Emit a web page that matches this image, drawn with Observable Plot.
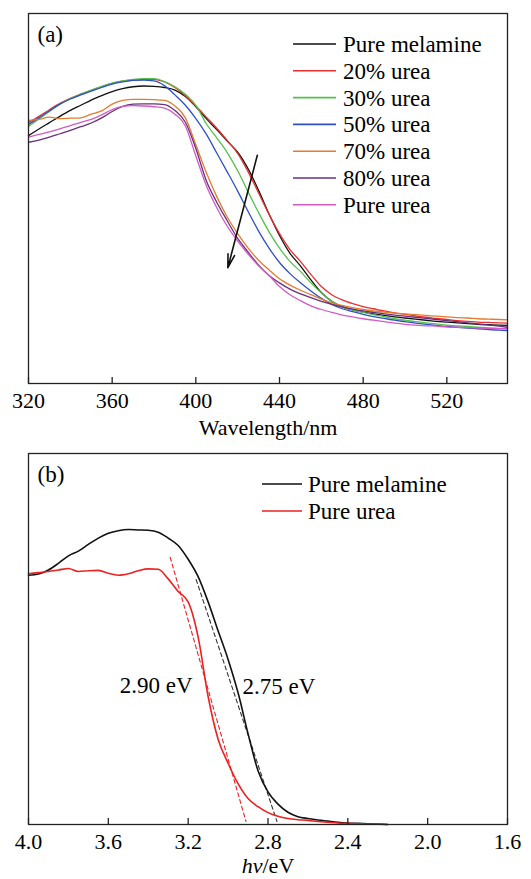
<!DOCTYPE html>
<html><head><meta charset="utf-8">
<script src="https://cdn.jsdelivr.net/npm/d3@7"></script>
<script src="https://cdn.jsdelivr.net/npm/@observablehq/plot@0.6"></script>
<style>
body{margin:0;background:#fff;}
#chart{width:531px;}
#chart svg{display:block;}
</style></head><body><div id="chart"></div>
<script>
// ---------- Panel (a): UV-vis absorbance vs wavelength ----------
const wavelengths = [320,325,330,335,340,345,350,355,360,365,370,375,380,385,390,395,400,405,410,415,420,425,430,435,440,445,450,455,460,465,470,475,480,485,490,495,500,505,510,515,520,525,530,535,540,545,549];
const seriesNames = ["Pure melamine","20% urea","30% urea","50% urea","70% urea","80% urea","Pure urea"];
const seriesColors = ["#111111","#ee2d2d","#52c249","#2f4fcb","#e57b2e","#6a2f7d","#d35ac6"];
const pureMelamineA = [0.670,0.688,0.705,0.722,0.738,0.752,0.766,0.778,0.789,0.797,0.802,0.804,0.803,0.800,0.793,0.776,0.748,0.716,0.686,0.655,0.625,0.580,0.522,0.458,0.400,0.352,0.318,0.280,0.246,0.222,0.207,0.199,0.193,0.188,0.184,0.180,0.177,0.174,0.171,0.168,0.166,0.164,0.162,0.160,0.159,0.158,0.157];
const urea20 = [0.705,0.722,0.740,0.757,0.771,0.782,0.792,0.802,0.811,0.817,0.820,0.822,0.822,0.815,0.800,0.778,0.750,0.720,0.690,0.657,0.622,0.572,0.515,0.457,0.405,0.362,0.330,0.295,0.262,0.240,0.226,0.216,0.208,0.202,0.196,0.191,0.187,0.183,0.179,0.176,0.173,0.170,0.168,0.166,0.165,0.164,0.163];
const urea30 = [0.695,0.715,0.735,0.755,0.770,0.782,0.793,0.803,0.812,0.818,0.822,0.824,0.824,0.816,0.802,0.782,0.752,0.702,0.664,0.624,0.575,0.518,0.462,0.410,0.366,0.330,0.303,0.272,0.245,0.222,0.208,0.199,0.192,0.186,0.181,0.175,0.171,0.167,0.164,0.161,0.158,0.156,0.154,0.152,0.150,0.149,0.148];
const urea50 = [0.700,0.718,0.737,0.755,0.769,0.780,0.790,0.800,0.809,0.815,0.819,0.820,0.818,0.805,0.780,0.752,0.716,0.674,0.623,0.572,0.520,0.465,0.412,0.366,0.327,0.297,0.272,0.250,0.230,0.214,0.202,0.194,0.187,0.181,0.176,0.171,0.167,0.163,0.160,0.157,0.154,0.152,0.150,0.148,0.146,0.144,0.143];
const urea70 = [0.711,0.714,0.720,0.716,0.717,0.718,0.728,0.737,0.755,0.765,0.768,0.768,0.767,0.765,0.750,0.718,0.645,0.570,0.505,0.450,0.405,0.366,0.333,0.307,0.283,0.266,0.252,0.240,0.228,0.218,0.211,0.205,0.200,0.196,0.193,0.190,0.188,0.186,0.184,0.182,0.180,0.178,0.177,0.175,0.174,0.173,0.172];
const urea80 = [0.652,0.658,0.666,0.675,0.684,0.694,0.704,0.718,0.735,0.749,0.755,0.756,0.756,0.754,0.738,0.706,0.635,0.548,0.490,0.440,0.392,0.355,0.320,0.292,0.272,0.255,0.242,0.232,0.222,0.214,0.207,0.201,0.196,0.192,0.188,0.185,0.182,0.179,0.176,0.173,0.170,0.167,0.164,0.161,0.158,0.155,0.152];
const pureUreaA = [0.666,0.673,0.680,0.688,0.697,0.706,0.714,0.726,0.740,0.749,0.751,0.750,0.748,0.744,0.728,0.696,0.615,0.535,0.475,0.425,0.385,0.350,0.318,0.292,0.262,0.240,0.224,0.210,0.200,0.192,0.185,0.180,0.175,0.171,0.167,0.163,0.160,0.158,0.156,0.155,0.153,0.152,0.151,0.150,0.149,0.148,0.148];
const xTicksA = [320,360,400,440,480,520];
const xLabelA = "Wavelength/nm";
const tagA = "(a)";
const arrowA = [{x1: 429.4, y1: 0.617, x2: 415.3, y2: 0.313}];

// ---------- Panel (b): absorbance vs photon energy ----------
const energies = [4.00,3.95,3.90,3.85,3.80,3.75,3.70,3.65,3.60,3.55,3.50,3.45,3.40,3.35,3.30,3.25,3.20,3.15,3.10,3.05,3.00,2.95,2.90,2.85,2.80,2.75,2.70,2.65,2.60,2.55,2.50,2.45,2.40,2.35,2.30,2.25,2.20];
const seriesNamesB = ["Pure melamine","Pure urea"];
const seriesColorsB = ["#111111","#ee2020"];
const pureMelamineB = [0.672,0.675,0.686,0.704,0.724,0.737,0.755,0.772,0.785,0.792,0.795,0.794,0.793,0.788,0.772,0.752,0.715,0.668,0.600,0.522,0.445,0.355,0.245,0.145,0.088,0.055,0.033,0.021,0.016,0.012,0.009,0.006,0.004,0.003,0.002,0.001,0.000];
const pureUreaB = [0.676,0.679,0.682,0.686,0.690,0.682,0.684,0.685,0.677,0.672,0.676,0.684,0.689,0.688,0.662,0.628,0.600,0.505,0.345,0.230,0.165,0.110,0.070,0.048,0.032,0.022,0.016,0.013,0.011,0.008,0.006,0.004,0.003,0.002,0.001,0.001,0.000];
const tangentMelamine = [[3.16,0.66],[2.755,0.008]];
const tangentUrea = [[3.29,0.72],[2.91,0.008]];
const gapLabels = [{text:"2.90 eV", x:3.36, y:0.375},{text:"2.75 eV", x:2.745, y:0.371}];
const xTicksB = [4.0,3.6,3.2,2.8,2.4,2.0,1.6];
const xLabelB = "hv/eV";
const tagB = "(b)";

const FONT = "Liberation Serif";
const W = 531, ML = 28, MR = 24;

function panel({height, marginTop, marginBottom, xDomain, ticks, tickFormat, label, labelDy, tag, dataMarks, legend}) {
  const innerH = height - marginTop - marginBottom;
  const svg = Plot.plot({
    width: W, height, marginTop, marginBottom, marginLeft: ML, marginRight: MR,
    style: {fontFamily: FONT, fontSize: "22px", color: "#000", background: "#fff"},
    x: {domain: xDomain},
    y: {domain: [0, 1], axis: null},
    color: {domain: legend.names, range: legend.colors},
    marks: [
      ...dataMarks,
      Plot.frame({stroke: "#222", strokeWidth: 1.3}),
      Plot.tickX(ticks, {x: d => d, insetTop: innerH - 6, stroke: "#222", strokeWidth: 1.3}),
      Plot.axisX(ticks, {tickSize: 0, tickPadding: 9, tickFormat, label: null, fontSize: 22, fontFamily: FONT, fontVariant: "normal"}),
      Plot.text([label], {frameAnchor: "bottom", dy: labelDy, lineAnchor: "middle", fontSize: 22, fontFamily: FONT, fill: "#000"}),
      Plot.text([tag], {frameAnchor: "top-left", dx: 9, dy: 21, lineAnchor: "middle", fontSize: 23, fontFamily: FONT, fill: "#000"})
    ]
  });
  // legend (line swatches + labels)
  const g = d3.select(svg).append("g").attr("font-size", 23).attr("font-family", FONT).attr("text-anchor", "start");
  legend.names.forEach((name, i) => {
    const y = marginTop + legend.top + i * legend.step;
    g.append("line").attr("x1", legend.x1).attr("x2", legend.x2).attr("y1", y).attr("y2", y)
      .attr("stroke", legend.colors[i]).attr("stroke-width", 1.6);
    g.append("text").attr("x", legend.tx).attr("y", y).attr("dy", "0.35em")
      .attr("text-anchor", "start").attr("font-family", FONT).attr("fill", "#000").text(name);
  });
  d3.select(svg).selectAll("[font-variant]").attr("font-variant", null);
  d3.select(svg).selectAll("text").attr("font-family", FONT);
  return svg;
}

const rowsA = [];
[pureMelamineA, urea20, urea30, urea50, urea70, urea80, pureUreaA].forEach((arr, s) => {
  arr.forEach((v, i) => rowsA.push({series: seriesNames[s], x: wavelengths[i], y: v}));
});
const rowsB = [];
[pureMelamineB, pureUreaB].forEach((arr, s) => {
  arr.forEach((v, i) => rowsB.push({series: seriesNamesB[s], x: energies[i], y: v}));
});

const svgA = panel({
  height: 440, marginTop: 13, marginBottom: 57,
  xDomain: [320, 549], ticks: xTicksA, tickFormat: d => String(d),
  label: xLabelA, labelDy: 44, tag: tagA,
  dataMarks: [
    Plot.line(rowsA, {x: "x", y: "y", z: "series", stroke: "series", strokeWidth: 1.3, curve: "monotone-x"}),
    Plot.arrow(arrowA, {x1: "x1", y1: "y1", x2: "x2", y2: "y2", stroke: "#111", strokeWidth: 1.6, headLength: 13, headAngle: 28})
  ],
  legend: {names: seriesNames, colors: seriesColors, top: 31, step: 26.8, x1: 293, x2: 336, tx: 343}
});

const svgB = panel({
  height: 439, marginTop: 13, marginBottom: 55,
  xDomain: [4.0, 1.6], ticks: xTicksB, tickFormat: d => d.toFixed(1),
  label: xLabelB, labelDy: 41, tag: tagB,
  dataMarks: [
    Plot.line(tangentUrea, {x: d => d[0], y: d => d[1], stroke: seriesColorsB[1], strokeWidth: 1.1, strokeDasharray: "4,3"}),
    Plot.line(tangentMelamine, {x: d => d[0], y: d => d[1], stroke: "#333", strokeWidth: 1.1, strokeDasharray: "4,3"}),
    Plot.line(rowsB, {x: "x", y: "y", z: "series", stroke: "series", strokeWidth: 1.6, curve: "monotone-x"}),
    Plot.text(gapLabels, {x: "x", y: "y", text: "text", fontSize: 23, fill: "#000"})
  ],
  legend: {names: seriesNamesB, colors: seriesColorsB, top: 31, step: 27, x1: 262, x2: 302, tx: 308}
});

// italic "hv" in the energy axis label
d3.select(svgB).selectAll("text").filter(function() { return this.textContent === xLabelB; })
  .each(function() {
    const t = d3.select(this);
    t.text(null);
    t.append("tspan").attr("font-style", "italic").text("hv");
    t.append("tspan").text("/eV");
  });

const chart = document.getElementById("chart");
chart.appendChild(svgA);
chart.appendChild(svgB);
</script></body></html>
